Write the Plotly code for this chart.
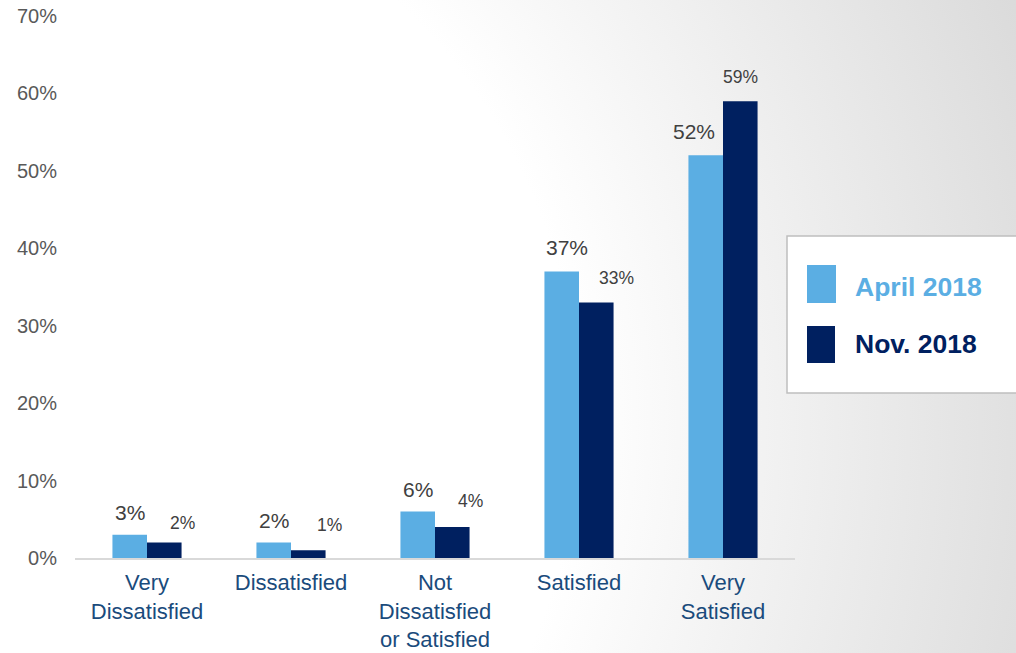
import base64
import plotly.graph_objects as go

categories = ["Very<br>Dissatisfied", "Dissatisfied", "Not<br>Dissatisfied<br>or Satisfied", "Satisfied", "Very<br>Satisfied"]
april_2018 = [3, 2, 6, 37, 52]
nov_2018 = [2, 1, 4, 33, 59]
series_names = ["April 2018", "Nov. 2018"]
y_ticks = [0, 10, 20, 30, 40, 50, 60, 70]

LIGHT = "#5BAEE3"
DARK = "#002060"

W, H = 1016, 653
ML, MR, MT, MB = 75, 221, 16, 95
PW, PH = W - ML - MR, H - MT - MB


def px(x):
    return (x - ML) / PW


def py(y):
    return (H - MB - y) / PH


fig = go.Figure()
fig.add_trace(go.Bar(x=categories, y=april_2018, name=series_names[0],
                     marker=dict(color=LIGHT, line=dict(width=0))))
fig.add_trace(go.Bar(x=categories, y=nov_2018, name=series_names[1],
                     marker=dict(color=DARK, line=dict(width=0))))

# data labels (label offsets, in pixels)
apr_xshift = [-17, -17, -17, -12, -29]
apr_yshift = [22, 22, 22, 24, 24]
nov_xshift = [35, 38, 35, 37, 17]
nov_yshift = [20, 25, 26, 24, 24]
for i, c in enumerate(categories):
    fig.add_annotation(x=c, y=april_2018[i], text=f"{april_2018[i]}%", showarrow=False,
                       xshift=apr_xshift[i], yshift=apr_yshift[i],
                       font=dict(size=21, color="#404040", family="Liberation Sans, Arial"))
    fig.add_annotation(x=c, y=nov_2018[i], text=f"{nov_2018[i]}%", showarrow=False,
                       xshift=nov_xshift[i], yshift=nov_yshift[i],
                       font=dict(size=17.5, color="#404040", family="Liberation Sans, Arial"))

# background gradient
svg = f'''<svg xmlns="http://www.w3.org/2000/svg" width="{W}" height="{H}" preserveAspectRatio="none">
<defs><radialGradient id="g" gradientUnits="userSpaceOnUse" cx="0" cy="420" r="1110">
<stop offset="0" stop-color="#ffffff"/><stop offset="0.52" stop-color="#ffffff"/>
<stop offset="1" stop-color="#dadada"/></radialGradient></defs>
<rect width="{W}" height="{H}" fill="url(#g)"/></svg>'''
src = "data:image/svg+xml;base64," + base64.b64encode(svg.encode()).decode()
fig.add_layout_image(source=src, xref="paper", yref="paper", x=px(0), y=py(0),
                     sizex=W / PW, sizey=H / PH, xanchor="left", yanchor="top",
                     sizing="stretch", layer="below")

# custom legend
fig.add_shape(type="rect", xref="paper", yref="paper", x0=px(787), x1=px(1030),
              y0=py(393), y1=py(236), fillcolor="white", line=dict(color="#bfbfbf", width=1.5))
fig.add_shape(type="rect", xref="paper", yref="paper", x0=px(807), x1=px(836),
              y0=py(303), y1=py(265), fillcolor=LIGHT, line=dict(width=0))
fig.add_shape(type="rect", xref="paper", yref="paper", x0=px(807), x1=px(835),
              y0=py(363), y1=py(326), fillcolor=DARK, line=dict(width=0))
fig.add_annotation(xref="paper", yref="paper", x=px(853), y=py(287), text="<b>April 2018</b>",
                   showarrow=False, xanchor="left", yanchor="middle",
                   font=dict(size=26.5, color=LIGHT, family="Liberation Sans, Arial"))
fig.add_annotation(xref="paper", yref="paper", x=px(853), y=py(344), text="<b>Nov. 2018</b>",
                   showarrow=False, xanchor="left", yanchor="middle",
                   font=dict(size=26.5, color=DARK, family="Liberation Sans, Arial"))

fig.update_layout(
    width=W, height=H,
    margin=dict(l=ML, r=MR, t=MT, b=MB, pad=0, autoexpand=False),
    paper_bgcolor="white", plot_bgcolor="rgba(0,0,0,0)",
    barmode="group", bargap=0.52, bargroupgap=0,
    showlegend=False,
    font=dict(family="Liberation Sans, Arial"),
)
fig.update_xaxes(showline=True, linecolor="#d9d9d9", linewidth=1.5, ticks="",
                 showgrid=False, tickfont=dict(size=22, color="#1A4B7C"),
                 ticklabelstandoff=4, fixedrange=True, automargin=False)
fig.update_yaxes(range=[0, 70], tickvals=y_ticks, ticktext=[f"{v}%" for v in y_ticks],
                 showgrid=False, zeroline=False, showline=False, ticks="",
                 tickfont=dict(size=20, color="#595959"), ticklabelstandoff=17,
                 fixedrange=True, automargin=False)

fig.write_html("out.html", config={"displayModeBar": False},
               post_script="document.body.style.margin='0';document.body.style.overflow='hidden';")
